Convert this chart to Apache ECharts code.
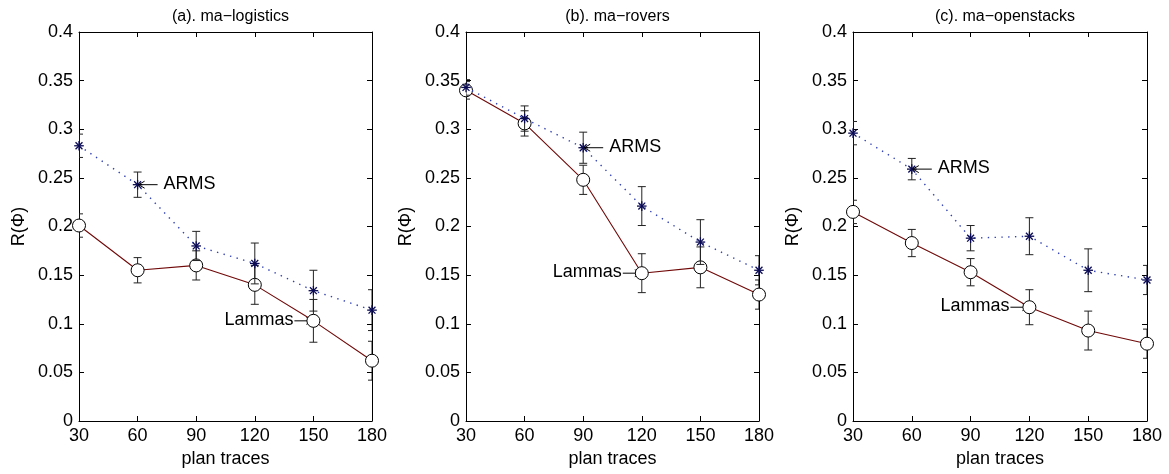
<!DOCTYPE html>
<html>
<head>
<meta charset="utf-8">
<script src="https://cdn.jsdelivr.net/npm/echarts@6/dist/echarts.min.js"></script>
<style>
html,body{margin:0;padding:0;background:#fff;}
#chart{width:1169px;height:474px;}
</style>
</head>
<body>
<div id="chart"></div>
<script>
// ---- data ----
const planTraces = [30, 60, 90, 120, 150, 180];
const xTicks = [30, 60, 90, 120, 150, 180];
const yTicks = [0, 0.05, 0.1, 0.15, 0.2, 0.25, 0.3, 0.35, 0.4];
const panelTitles = ['(a). ma\u2212logistics', '(b). ma\u2212rovers', '(c). ma\u2212openstacks'];

const armsA = [0.283, 0.243, 0.180, 0.162, 0.134, 0.114];
const armsErrA = [0.012, 0.013, 0.015, 0.021, 0.021, 0.021];
const lammasA = [0.201, 0.155, 0.160, 0.140, 0.103, 0.062];
const lammasErrA = [0.012, 0.013, 0.015, 0.020, 0.022, 0.020];

const armsB = [0.343, 0.311, 0.281, 0.221, 0.184, 0.155];
const armsErrB = [0.008, 0.013, 0.016, 0.020, 0.023, 0.015];
const lammasB = [0.340, 0.306, 0.248, 0.152, 0.158, 0.130];
const lammasErrB = [0.009, 0.013, 0.015, 0.020, 0.021, 0.015];

const armsC = [0.296, 0.259, 0.188, 0.190, 0.155, 0.145];
const armsErrC = [0.012, 0.011, 0.013, 0.019, 0.022, 0.015];
const lammasC = [0.215, 0.183, 0.153, 0.117, 0.093, 0.0795];
const lammasErrC = [0.012, 0.014, 0.014, 0.018, 0.020, 0.015];

// annotation positions (index into planTraces)
const armsLabelIdx = [1, 2, 1];
const lammasLabelIdx = [4, 3, 3];
const armsText = 'ARMS';
const lammasText = 'Lammas';

const panels = [
  {arms: armsA, armsErr: armsErrA, lammas: lammasA, lammasErr: lammasErrA},
  {arms: armsB, armsErr: armsErrB, lammas: lammasB, lammasErr: lammasErrB},
  {arms: armsC, armsErr: armsErrC, lammas: lammasC, lammasErr: lammasErrC}
];

// ---- layout ----
const FONT = 'Liberation Sans, Arial, Helvetica, sans-serif';
const FS = 18;
const gridLefts = [79, 466, 853];
const gridWidths = [293, 293, 294];
const gridTop = 32, gridHeight = 389;

const grids = [], xAxes = [], yAxes = [], titles = [], series = [];

function errRender(params, api) {
  const x = api.value(0), lo = api.value(1), hi = api.value(2);
  const p1 = api.coord([x, lo]), p2 = api.coord([x, hi]);
  const cw = 4;
  const st = {stroke: '#222', lineWidth: 1};
  return {type: 'group', children: [
    {type: 'line', shape: {x1: p1[0], y1: p1[1], x2: p2[0], y2: p2[1]}, style: st},
    {type: 'line', shape: {x1: p1[0]-cw, y1: p1[1], x2: p1[0]+cw, y2: p1[1]}, style: st},
    {type: 'line', shape: {x1: p2[0]-cw, y1: p2[1], x2: p2[0]+cw, y2: p2[1]}, style: st}
  ]};
}
function starRender(params, api) {
  const p = api.coord([api.value(0), api.value(1)]);
  const r = 4.8, d = r * 0.72;
  const st = {stroke: '#0b0b55', lineWidth: 1.3};
  return {type: 'group', children: [
    {type: 'line', shape: {x1: p[0]-r, y1: p[1], x2: p[0]+r, y2: p[1]}, style: st},
    {type: 'line', shape: {x1: p[0], y1: p[1]-r, x2: p[0], y2: p[1]+r}, style: st},
    {type: 'line', shape: {x1: p[0]-d, y1: p[1]-d, x2: p[0]+d, y2: p[1]+d}, style: st},
    {type: 'line', shape: {x1: p[0]-d, y1: p[1]+d, x2: p[0]+d, y2: p[1]-d}, style: st}
  ]};
}
// "\leftarrow ARMS" style annotation: arrow tip at the point, text to the right
function leftArrowRender(params, api) {
  const p = api.coord([api.value(0), api.value(1)]);
  const st = {stroke: '#000', lineWidth: 1};
  const tip = p[0] + 1, tail = p[0] + 20;
  return {type: 'group', children: [
    {type: 'line', shape: {x1: tip, y1: p[1], x2: tail, y2: p[1]}, style: st},
    {type: 'polyline', shape: {points: [[tip + 6, p[1] - 3.5], [tip, p[1]], [tip + 6, p[1] + 3.5]]}, style: {stroke: '#000', lineWidth: 1, fill: null}},
    {type: 'text', x: p[0] + 26, y: p[1] - 1, style: {text: armsText, fontFamily: FONT, fontSize: FS, fill: '#000', align: 'left', verticalAlign: 'middle'}}
  ]};
}
// "Lammas\rightarrow" style annotation: text ends left of the point, arrow to it
function rightArrowRender(params, api) {
  const p = api.coord([api.value(0), api.value(1)]);
  const st = {stroke: '#000', lineWidth: 1};
  const tip = p[0] - 1, tail = p[0] - 19;
  return {type: 'group', children: [
    {type: 'line', shape: {x1: tail, y1: p[1], x2: tip, y2: p[1]}, style: st},
    {type: 'polyline', shape: {points: [[tip - 6, p[1] - 3.5], [tip, p[1]], [tip - 6, p[1] + 3.5]]}, style: {stroke: '#000', lineWidth: 1, fill: null}},
    {type: 'text', x: p[0] - 20, y: p[1] - 1, style: {text: lammasText, fontFamily: FONT, fontSize: FS, fill: '#000', align: 'right', verticalAlign: 'middle'}}
  ]};
}

const axisLineStyle = {show: true, onZero: false, lineStyle: {color: '#000', width: 1}};
const tickStyle = {show: true, inside: true, length: 5, lineStyle: {color: '#000', width: 1}};

panels.forEach((pn, k) => {
  grids.push({left: gridLefts[k], top: gridTop, width: gridWidths[k], height: gridHeight, containLabel: false});
  titles.push({
    text: panelTitles[k], left: gridLefts[k] + gridWidths[k] / 2, top: 4, textAlign: 'center',
    textStyle: {fontFamily: FONT, fontSize: 16, fontWeight: 'normal', color: '#000'}
  });
  xAxes.push({
    type: 'value', gridIndex: k, position: 'bottom', min: xTicks[0], max: xTicks[xTicks.length-1],
    interval: xTicks[1] - xTicks[0],
    name: 'plan traces', nameLocation: 'middle', nameGap: 29,
    nameTextStyle: {fontFamily: FONT, fontSize: FS, color: '#000'},
    axisLine: axisLineStyle, axisTick: tickStyle, splitLine: {show: false},
    axisLabel: {fontFamily: FONT, fontSize: FS, color: '#000', margin: 6}
  });
  xAxes.push({
    type: 'value', gridIndex: k, position: 'top', min: xTicks[0], max: xTicks[xTicks.length-1],
    interval: xTicks[1] - xTicks[0],
    axisLine: axisLineStyle, axisTick: tickStyle, splitLine: {show: false}, axisLabel: {show: false}
  });
  yAxes.push({
    type: 'value', gridIndex: k, position: 'left', min: yTicks[0], max: yTicks[yTicks.length-1],
    interval: yTicks[1] - yTicks[0],
    name: 'R(\u03A6)', nameLocation: 'middle', nameGap: 51, nameRotate: 90,
    nameTextStyle: {fontFamily: FONT, fontSize: FS, color: '#000'},
    axisLine: axisLineStyle, axisTick: tickStyle, splitLine: {show: false},
    axisLabel: {fontFamily: FONT, fontSize: FS, color: '#000', margin: 6}
  });
  yAxes.push({
    type: 'value', gridIndex: k, position: 'right', min: yTicks[0], max: yTicks[yTicks.length-1],
    interval: yTicks[1] - yTicks[0],
    axisLine: axisLineStyle, axisTick: tickStyle, splitLine: {show: false}, axisLabel: {show: false}
  });
  const xi = 2 * k, yi = 2 * k;
  const lamErrData = planTraces.map((x, i) => [x, pn.lammas[i] - pn.lammasErr[i], pn.lammas[i] + pn.lammasErr[i]]);
  const armErrData = planTraces.map((x, i) => [x, pn.arms[i] - pn.armsErr[i], pn.arms[i] + pn.armsErr[i]]);
  const li = lammasLabelIdx[k], ai = armsLabelIdx[k];
  series.push({
    type: 'custom', xAxisIndex: xi, yAxisIndex: yi, z: 1, silent: true,
    renderItem: rightArrowRender, data: [[planTraces[li], pn.lammas[li]]]
  });
  series.push({
    type: 'custom', xAxisIndex: xi, yAxisIndex: yi, z: 2, clip: true, silent: true,
    renderItem: errRender, data: lamErrData
  });
  series.push({
    type: 'line', xAxisIndex: xi, yAxisIndex: yi, z: 3, silent: true,
    data: planTraces.map((x, i) => [x, pn.lammas[i]]),
    lineStyle: {color: '#700808', width: 1.1},
    symbol: 'circle', symbolSize: 13, showAllSymbol: true,
    itemStyle: {color: '#fff', borderColor: '#000', borderWidth: 1}
  });
  series.push({
    type: 'line', xAxisIndex: xi, yAxisIndex: yi, z: 4, silent: true,
    data: planTraces.map((x, i) => [x, pn.arms[i]]),
    lineStyle: {color: '#3040b0', width: 1.4, type: [1.4, 5.4]},
    symbol: 'none'
  });
  series.push({
    type: 'custom', xAxisIndex: xi, yAxisIndex: yi, z: 5, clip: true, silent: true,
    renderItem: errRender, data: armErrData
  });
  series.push({
    type: 'custom', xAxisIndex: xi, yAxisIndex: yi, z: 6, silent: true,
    renderItem: starRender, data: planTraces.map((x, i) => [x, pn.arms[i]])
  });
  series.push({
    type: 'custom', xAxisIndex: xi, yAxisIndex: yi, z: 7, silent: true,
    renderItem: leftArrowRender, data: [[planTraces[ai], pn.arms[ai]]]
  });
});

const chart = echarts.init(document.getElementById('chart'), null, {renderer: 'canvas'});
chart.setOption({
  animation: false,
  backgroundColor: '#fff',
  title: titles,
  grid: grids,
  xAxis: xAxes,
  yAxis: yAxes,
  series: series
});
</script>
</body>
</html>
